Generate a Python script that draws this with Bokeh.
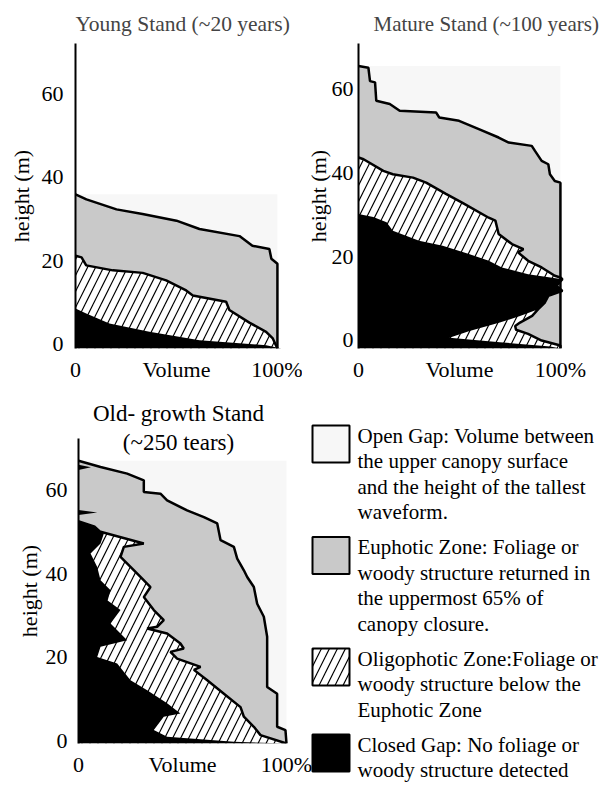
from bokeh.plotting import figure
from bokeh.models import Range1d, FixedTicker
from bokeh.layouts import column, row
from bokeh.embed import file_html
from bokeh.resources import INLINE
from bokeh.core.properties import value

FONT = "Liberation Serif"
GRAY = "#c9c9c9"
OPEN = "#f7f7f7"

# ---------------- data (x = % of volume, h = height in m) ----------------
Y_TICKS = [0, 20, 40, 60]
X_TICKS = [0, 50, 100]
X_TICK_LABELS = ["0", "Volume", "100%"]
FULL = 100  # 100 % of the volume

# Young stand
young_euph_h = [35.9, 34.7, 32.3, 31.2, 29.6, 27.6, 25.9, 23.6, 22.8, 20.5, 19.3, -1.0]
young_euph_x = [0, 5.4, 20.3, 33.2, 50.0, 61.4, 81.2, 87.6, 96.0, 97.0, 100, 100]
young_oligo_h = [21.2, 20.8, 18.9, 17.7, 17.1, 15.3, 12.9, 11.7, 10.2, 8.2, 5.2, 3.0, 1.4, -1.0]
young_oligo_x = [0, 3.0, 5.3, 18.5, 33.3, 44.9, 54.8, 58.1, 74.6, 76.2, 86.1, 94.4, 97.7, 100]
young_closed_h = [8.6, 7.4, 5.0, 3.0, 1.0, -0.2, -1.0]
young_closed_x = [0, 5.3, 16.8, 36.6, 61.4, 94.4, 102]

# Mature stand
mature_euph_h = [65.6, 65.2, 62.0, 61.7, 57.3, 56.5, 54.9, 54.5, 53.3, 52.5, 50.5, 48.5,
                 47.3, 46.5, 45.3, 42.9, 42.1, 39.7, 38.1, 37.7, -2.0]
mature_euph_x = [0, 4.9, 5.7, 8.2, 8.8, 15.5, 20.4, 38.4, 40.0, 49.8, 59.6, 69.4,
                 74.4, 85.8, 87.4, 90.7, 94.0, 94.8, 97.2, 100, 100]
mature_oligo_h = [43.7, 43.3, 40.5, 39.7, 38.9, 37.7, 35.0, 32.9, 29.3, 28.6, 25.4, 23.0,
                  21.8, 21.0, 19.0, 17.4, 15.4, 15.0, 14.6, 13.0, 11.8, 10.6, 9.0, 7.4,
                  5.8, 4.2, 3.4, 2.5, 1.5, -0.1, -1.3, -2.0]
mature_oligo_x = [0, 2.5, 12.3, 17.0, 27.0, 33.5, 43.3, 51.3, 64.5, 67.8, 69.4, 76.0,
                  81.7, 79.0, 84.0, 90.7, 97.2, 100, 101, 98, 101, 94, 92.3, 89,
                  86, 80, 77.6, 78, 84, 90.7, 100, 100]
mature_closed_h = [30.2, 29.5, 28.2, 26.2, 23.8, 22.6, 20.6, 19.0, 17.4, 15.8, 14.6, 13.0,
                   11.8, 10.6, 9.0, 7.4, 5.8, 4.2, 2.2, 0.6, -0.5, -1.5, -2.0]
mature_closed_x = [0, 7.3, 13.9, 17.0, 30.0, 41.7, 54.7, 64.5, 71.0, 84.0, 101, 98,
                   101, 94, 92.3, 89, 80, 70, 55, 45, 70, 95, 100]

# Old-growth stand
old_euph_h = [67.0, 65.5, 63.9, 62.3, 59.5, 59.1, 57.5, 55.1, 53.5, 52.0, 48.0, 46.4,
              43.6, 40.8, 39.2, 36.8, 32.8, 29.7, 24.9, 12.9, 11.3, 3.4, 2.6, -0.6]
old_euph_x = [0, 10.6, 23.4, 31.4, 31.4, 39.4, 42.6, 52.2, 60.3, 66.7, 68.3, 74.7,
              76.3, 79.5, 81.1, 84.3, 85.9, 89.1, 90.7, 90.7, 95.5, 95.5, 99.5, 100]
old_oligo_h = [50.0, 47.2, 46.4, 44.0, 41.6, 39.2, 36.8, 34.4, 31.3, 28.9, 27.3, 26.9,
               25.7, 23.3, 22.1, 21.3, 19.7, 17.7, 17.0, 14.5, 11.3, 8.1, 5.8, 3.4, 1.4, -0.6]
old_oligo_x = [10.6, 31.4, 21.8, 20.2, 25.0, 29.8, 34.6, 31.4, 36.2, 41.0, 37.8, 33.0,
               42.6, 49.0, 50.6, 44.2, 47.4, 58.7, 55.5, 61.9, 69.9, 77.9, 79.5, 84.3, 87.5, 100]
old_closed_h = [66.0, 65.4, 64.8, 55.2, 54.6, 54.0, 52.8, 51.5, 49.6, 47.2, 44.8, 41.6,
                38.4, 36.0, 33.6, 31.3, 28.1, 24.1, 22.5, 20.1, 18.5, 14.5, 12.1, 9.0,
                6.6, 5.8, 2.6, 1.0, -0.2, -0.6]
old_closed_x = [0, 6.0, 0, 0, 9.0, 0, 0, 8.0, 12.2, 10.6, 5.8, 9.0,
                10.6, 15.4, 14.0, 20.2, 15.4, 23.4, 10.6, 9.0, 18.6, 25.0, 33.0, 42.6,
                49.0, 41.0, 36.2, 42.6, 74.7, 100]
old_title_lines = ["Old- growth Stand", "(~250 tears)"]

# Legend
legend_lines = [
    ["Open Gap: Volume between", "the upper canopy surface",
     "and the height of the tallest", "waveform."],
    ["Euphotic Zone: Foliage or", "woody structure returned in",
     "the uppermost 65% of", "canopy closure."],
    ["Oligophotic Zone:Foliage or", "woody structure below the", "Euphotic Zone"],
    ["Closed Gap: No foliage or", "woody structure detected"],
]
legend_fills = [OPEN, GRAY, "white", "black"]
legend_hatch = [" ", " ", "/", " "]

PANEL_SPAN = 104  # x range shown for each stand (% of volume)


def style_axes(p, ytick_standoff, ylabel_standoff):
    p.outline_line_color = None
    p.xgrid.visible = False
    p.ygrid.visible = False
    xa = p.xaxis[0]
    xa.ticker = FixedTicker(ticks=X_TICKS)
    xa.major_label_overrides = dict(zip(X_TICKS, X_TICK_LABELS))
    xa.axis_line_color = None
    xa.major_tick_line_color = None
    xa.minor_tick_line_color = None
    xa.major_tick_out = 0
    xa.major_label_standoff = 8
    ya = p.yaxis[0]
    ya.ticker = FixedTicker(ticks=Y_TICKS)
    ya.axis_line_width = 2
    ya.axis_line_color = "black"
    ya.major_tick_line_color = None
    ya.minor_tick_line_color = None
    ya.major_tick_out = 0
    ya.major_label_standoff = ytick_standoff
    ya.axis_label = "height (m)"
    ya.axis_label_standoff = ylabel_standoff
    for ax in (xa, ya):
        ax.major_label_text_font = FONT
        ax.major_label_text_font_size = "22px"
        ax.major_label_text_color = "black"
        ax.axis_label_text_font = FONT
        ax.axis_label_text_font_size = "22px"
        ax.axis_label_text_font_style = "normal"
        ax.axis_label_text_color = "black"


def draw_stand(p, eh, ex, oh, ox, ch, cx):
    # open gap, euphotic, oligophotic, closed gap
    p.harea(x1=ex, x2=[FULL] * len(ex), y=eh, fill_color=OPEN)
    p.harea(x1=0, x2=ex, y=eh, fill_color=GRAY)
    p.harea(x1=0, x2=ox, y=oh, fill_color="white", hatch_pattern="/",
            hatch_color="black", hatch_scale=16, hatch_weight=1.2)
    p.harea(x1=0, x2=cx, y=ch, fill_color="black")
    p.line(ex, eh, line_color="black", line_width=2.5)
    p.line(ox, oh, line_color="black", line_width=2.5)


ROW1_H = 385


def top_panel(title, data, *, width, yr, borders, title_offset, title_size,
              ytick_standoff, ylabel_standoff):
    left, right, top, bottom = borders
    p = figure(width=width, height=ROW1_H, x_range=Range1d(0, PANEL_SPAN), y_range=Range1d(*yr),
               output_backend="svg", toolbar_location=None,
               min_border_left=left, min_border_right=right,
               min_border_top=top, min_border_bottom=bottom)
    p.title.text = title
    p.title.text_font = FONT
    p.title.text_font_size = title_size
    p.title.text_font_style = "normal"
    p.title.align = "left"
    p.title.offset = title_offset
    p.title.standoff = 16
    draw_stand(p, *data)
    style_axes(p, ytick_standoff, ylabel_standoff)
    return p


p1 = top_panel("Young Stand (~20 years)",
               (young_euph_h, young_euph_x, young_oligo_h, young_oligo_x,
                young_closed_h, young_closed_x),
               width=302, yr=(-1, 72), borders=(75, 17, 43, 35), title_offset=0,
               title_size="21.5px", ytick_standoff=12, ylabel_standoff=5)
p2 = top_panel("Mature Stand (~100 years)",
               (mature_euph_h, mature_euph_x, mature_oligo_h, mature_oligo_x,
                mature_closed_h, mature_closed_x),
               width=305, yr=(-2, 71), borders=(54, 39, 43, 37), title_offset=15,
               title_size="21px", ytick_standoff=5, ylabel_standoff=-2)

# bottom panel: old-growth stand, with the key drawn to its right
W3, H3 = 607, 399
L3, T3, B3 = 78, 53, 41
PANEL3_PX = 208                      # px per 100 % in the old-growth profile
frame_w = W3 - L3
p3 = figure(width=W3, height=H3,
            x_range=Range1d(0, FULL * frame_w / PANEL3_PX), y_range=Range1d(-0.6, 72.3),
            output_backend="svg", toolbar_location=None,
            min_border_left=L3, min_border_right=0, min_border_top=T3, min_border_bottom=B3)
# "page" coordinates for the key and the two-line panel heading
top3 = ROW1_H + T3
bottom3 = ROW1_H + H3 - B3
p3.extra_x_ranges = {"page": Range1d(L3, W3)}
p3.extra_y_ranges = {"page": Range1d(bottom3, top3)}

draw_stand(p3, old_euph_h, old_euph_x, old_oligo_h, old_oligo_x, old_closed_h, old_closed_x)
style_axes(p3, 11, 1)

p3.text(x=[178, 178], y=[413, 442], text=old_title_lines, text_font=value(FONT),
        text_font_size="23px", text_align="center", text_baseline="middle",
        text_color="black", x_range_name="page", y_range_name="page", level="annotation")

line_h = 25.5
gap = 9.5
box = 37
box_left = 312
text_left = 357
first = 435
text_x, text_y, text_s = [], [], []
tops = []
for lines in legend_lines:
    tops.append(first - 10)
    for k, s in enumerate(lines):
        text_x.append(text_left)
        text_y.append(first + k * line_h)
        text_s.append(s)
    first += len(lines) * line_h + gap
bottoms = [t + box for t in tops]
p3.quad(left=box_left, right=box_left + box, top=tops, bottom=bottoms, fill_color=legend_fills,
        line_color="black", line_width=2, hatch_pattern=legend_hatch,
        hatch_color="black", hatch_scale=16, hatch_weight=1.2,
        x_range_name="page", y_range_name="page", level="annotation")
p3.text(x=text_x, y=text_y, text=text_s, text_font=value(FONT), text_font_size="21px",
        text_baseline="middle", text_align="left", text_color="black",
        x_range_name="page", y_range_name="page", level="annotation")

layout = column(row(p1, p2), p3)
open("out.html", "w").write(file_html(layout, INLINE))
